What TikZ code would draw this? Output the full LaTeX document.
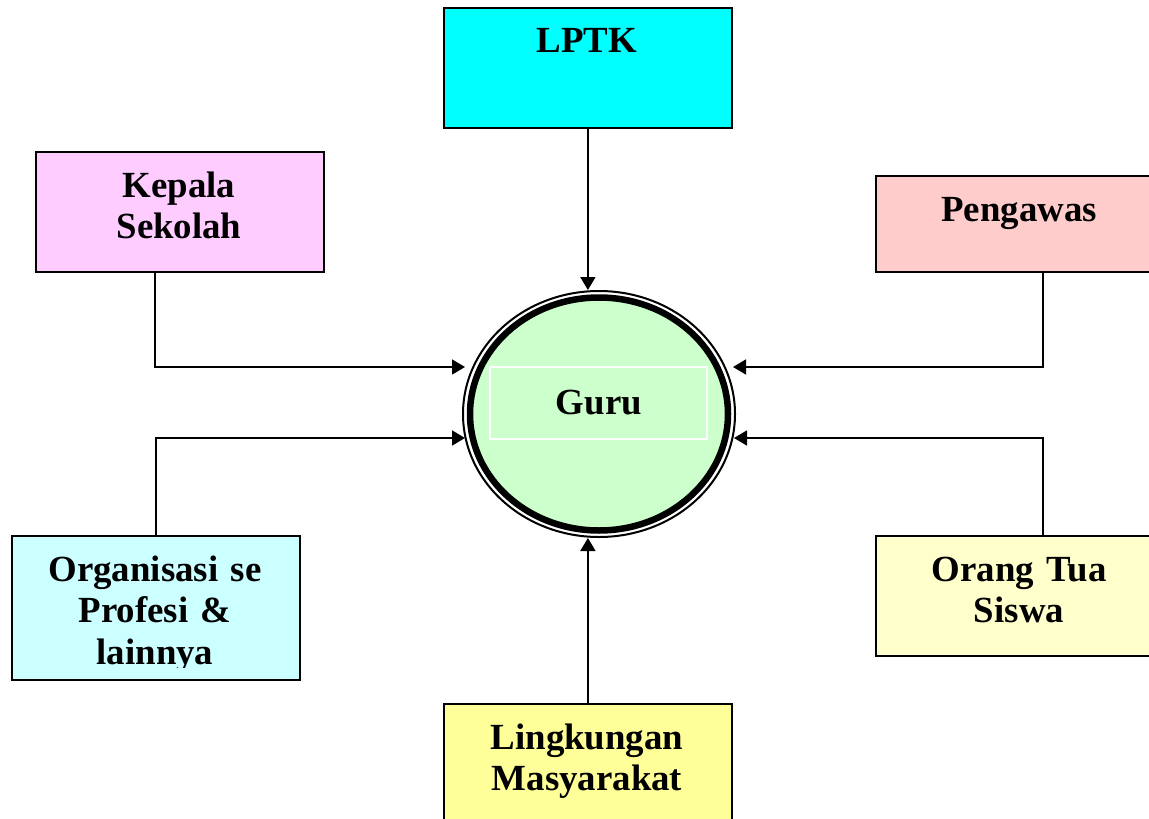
\documentclass[tikz,border=0pt]{standalone}
\usepackage{fontspec}
\setmainfont{Liberation Serif}
\usetikzlibrary{shapes.geometric,arrows.meta}
\definecolor{lptkfill}{HTML}{00FFFF}
\definecolor{kepfill}{HTML}{FFCCFF}
\definecolor{penfill}{HTML}{FFCCCC}
\definecolor{orgfill}{HTML}{CCFFFF}
\definecolor{orafill}{HTML}{FFFFCC}
\definecolor{lingfill}{HTML}{FFFF99}
\definecolor{gurufill}{HTML}{CCFFCC}
\begin{document}
\begin{tikzpicture}[x=1bp,y=-1bp,
  box/.style={draw=black,line width=1.8bp,rectangle,minimum width=288bp,inner sep=0pt,anchor=north west},
  lbl/.style={text width=280bp,align=center,anchor=base,inner sep=0pt,font=\fontsize{37}{42}\selectfont\bfseries},
  conn/.style={line width=1.8bp,-{Triangle[length=13bp,width=15bp]}}]
\useasboundingbox (0,0) rectangle (1149,819);

% boxes
\node[box,fill=lptkfill,minimum height=120bp] (lptk) at (443,7) {};
\node[lbl] (lptkT) at (587,53) {LPTK};

\node[box,fill=kepfill,minimum height=120bp] (kep) at (35,151) {};
\node[lbl] (kepT) at (179,197) {Kepala\\Sekolah};

\node[box,fill=penfill,minimum height=96bp] (pen) at (875,175) {};
\node[lbl] (penT) at (1019,221) {Pengawas};

\node[box,fill=orgfill,minimum height=144bp] (org) at (11,535) {};
\begin{scope}
  \clip (11,535) rectangle (299,667);
  \node[lbl] (orgT) at (155,581) {Organisasi se\\Profesi \&\\lainnya};
\end{scope}

\node[box,fill=orafill,minimum height=120bp] (ora) at (875,535) {};
\node[lbl] (oraT) at (1019,581) {Orang Tua\\Siswa};

\node[box,fill=lingfill,minimum height=120bp] (ling) at (443,703) {};
\node[lbl] (lingT) at (587,749) {Lingkungan\\Masyarakat};

% central circle
\node[ellipse,draw=black,line width=2bp,fill=white,minimum width=272bp,minimum height=246bp,inner sep=0pt] (guru) at (599,414) {};
\draw[line width=6.5bp,fill=gurufill] (guru.center) ellipse [x radius=129, y radius=116.5];
\node[draw=white,line width=1.2bp,minimum width=217bp,minimum height=72bp,inner sep=0pt] (gurubox) at (598.5,403) {};
\node[lbl] (guruT) at (599,414) {Guru};

% connector ends
\coordinate (gL1) at ([shift={(3,-47)}]guru.west);
\coordinate (gL2) at ([shift={(3,24)}]guru.west);
\coordinate (gR1) at ([shift={(-3,-47)}]guru.east);
\coordinate (gR2) at ([shift={(-2,24)}]guru.east);

% connectors
\draw[conn] (lptk.south) -- (lptk.south |- guru.north);
\draw[conn] (ling.north) -- (ling.north |- guru.south);
\draw[conn] ([xshift=120bp]kep.south west) |- (gL1);
\draw[conn] ([xshift=168bp]pen.south west) |- (gR1);
\draw[conn] (org.north) |- (gL2);
\draw[conn] ([xshift=168bp]ora.north west) |- (gR2);
\end{tikzpicture}
\end{document}
